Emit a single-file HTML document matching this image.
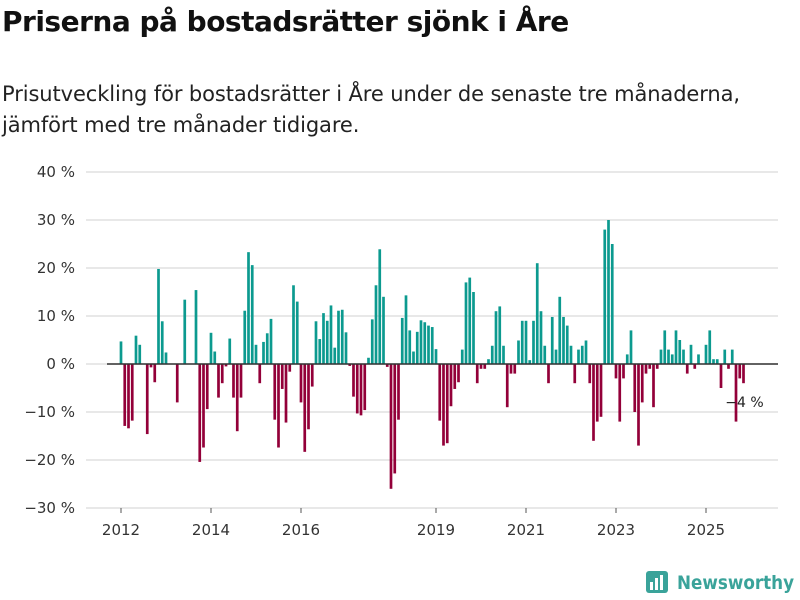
<!DOCTYPE html>
<html><head><meta charset="utf-8"><style>
body{margin:0;width:800px;height:600px;background:#fff;font-family:"Liberation Sans","DejaVu Sans",sans-serif;overflow:hidden;position:relative}
h1{position:absolute;left:2px;top:5px;margin:0;font-size:28px;font-weight:bold;color:#111;font-family:"DejaVu Sans","Liberation Sans",sans-serif;letter-spacing:-0.5px}
p.sub{position:absolute;left:2px;top:79px;margin:0;font-size:21px;line-height:31px;color:#222;font-family:"DejaVu Sans","Liberation Sans",sans-serif;letter-spacing:-0.1px}
svg{position:absolute;left:0;top:0}
</style></head><body>
<h1>Priserna på bostadsrätter sjönk i Åre</h1>
<p class="sub">Prisutveckling för bostadsrätter i Åre under de senaste tre månaderna,<br>jämfört med tre månader tidigare.</p>
<svg id="chart" width="800" height="600"></svg>
<script>
const startYear = 2012;
const values = [4.7,-12.9,-13.4,-11.8,5.9,4.0,null,-14.6,-0.7,-3.8,19.8,8.9,2.4,null,null,-8,null,13.4,null,null,15.4,-20.4,-17.4,-9.4,6.5,2.6,-7,-4,-0.5,5.3,-7,-14,-7,11.1,23.3,20.6,4,-4,4.6,6.4,9.4,-11.6,-17.4,-5.2,-12.2,-1.6,16.4,13,-8,-18.3,-13.6,-4.7,8.9,5.2,10.6,9,12.2,3.4,11.1,11.3,6.6,-0.4,-6.8,-10.3,-10.7,-9.6,1.3,9.3,16.4,23.9,14,-0.6,-26,-22.8,-11.6,9.6,14.3,7,2.6,6.7,9.1,8.7,8,7.7,3.1,-11.8,-17,-16.5,-8.8,-5.2,-3.8,3,17,18,15,-4,-1,-1,1,3.8,11,12,3.8,-9,-2,-2,4.9,9,9,0.8,9,21,11,3.8,-4,9.8,3,14,9.8,8,3.8,-4,3,3.8,4.9,-4,-16,-12,-11,28,30,25,-3,-12,-3,2,7,-10,-17,-8,-2,-1,-9,-1,3,7,3,2,7,5,3,-2,4,-1,2,null,4,7,1,1,-5,3,-1,3,-12,-3,-4];
const yTicks = [40,30,20,10,0,-10,-20,-30];
const yTickLabels = ["40 %","30 %","20 %","10 %","0 %","−10 %","−20 %","−30 %"];
const xTickYears = [2012,2014,2016,2019,2021,2023,2025];
const lastLabel = "−4 %";

const svg = document.getElementById('chart');
const NS = 'http://www.w3.org/2000/svg';
const y = v => 364 - v * 4.8;
const x = i => 121 + i * 3.75;
function mk(tag, attrs){const e=document.createElementNS(NS,tag);for(const k in attrs)e.setAttribute(k,attrs[k]);svg.appendChild(e);return e;}

yTicks.forEach((t,k)=>{
  const g = mk('line',{x1:86,x2:778,y1:y(t),y2:y(t),stroke:'#e0e0e0','stroke-width':1.5});
  
  
  const tx = mk('text',{x:75,y:y(t)+5,'text-anchor':'end','font-size':15,fill:'#333','font-family':'DejaVu Sans, sans-serif'});
  tx.textContent = yTickLabels[k];
  
  
});
xTickYears.forEach(yr=>{
  const i = (yr - startYear) * 12;
  const tk = mk('line',{x1:x(i),x2:x(i),y1:508,y2:513,stroke:'#555','stroke-width':1});
  
  
  const tx = mk('text',{x:x(i),y:535,'text-anchor':'middle','font-size':15,fill:'#333','font-family':'DejaVu Sans, sans-serif'});
  tx.textContent = yr;
  
  
});
values.forEach((v,i)=>{
  if(v===null) return;
  const top = v>=0 ? y(v) : y(0);
  const h = Math.max(Math.abs(y(v)-y(0)),0.8);
  const r = mk('rect',{x:x(i)-1.35,y:top,width:2.7,height:h,fill:v>=0?'#0c9a8f':'#930039'});
  
  
});
const zl = mk('line',{x1:107,x2:778,y1:y(0),y2:y(0),stroke:'#333','stroke-width':1.5});


const li = values.length-1;
const lb = mk('text',{x:x(li)+1,y:y(values[li])+24,'text-anchor':'middle','font-size':14,fill:'#222','font-family':'DejaVu Sans, sans-serif'});
lb.textContent = lastLabel;


</script>
<svg width="800" height="600" style="pointer-events:none">
  <rect x="646" y="571" width="22" height="22" rx="3" fill="#3aa39a"/>
  <rect x="650" y="582" width="3" height="8" fill="#fff"/>
  <rect x="655" y="578" width="3" height="12" fill="#fff"/>
  <rect x="660" y="575" width="3" height="15" fill="#fff"/>
  <text x="677" y="589" font-size="19" font-weight="bold" fill="#3aa39a" font-family="DejaVu Sans, sans-serif" textLength="117" lengthAdjust="spacingAndGlyphs">Newsworthy</text>
</svg>
</body></html>
